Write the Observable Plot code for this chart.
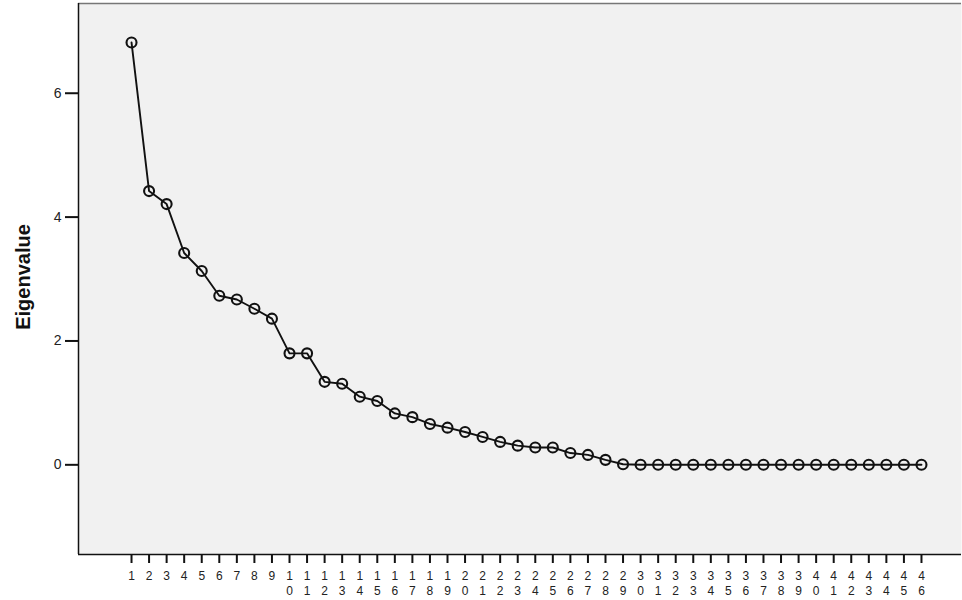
<!DOCTYPE html>
<html>
<head>
<meta charset="utf-8">
<script src="https://cdn.jsdelivr.net/npm/d3@7"></script>
<script src="https://cdn.jsdelivr.net/npm/@observablehq/plot@0.6"></script>
<style>
  html, body { margin: 0; padding: 0; background: #ffffff; }
  #chart svg { display: block; }
</style>
</head>
<body>
<div id="chart"></div>
<script>
// Component numbers 1..46
const components = [1,2,3,4,5,6,7,8,9,10,11,12,13,14,15,16,17,18,19,20,21,22,23,24,25,26,27,28,29,30,31,32,33,34,35,36,37,38,39,40,41,42,43,44,45,46];
// Eigenvalues
const eigenvalues = [6.82,4.42,4.21,3.42,3.13,2.73,2.67,2.52,2.36,1.80,1.80,1.34,1.31,1.10,1.03,0.83,0.77,0.66,0.60,0.53,0.45,0.37,0.31,0.28,0.28,0.19,0.16,0.08,0.01,0,0,0,0,0,0,0,0,0,0,0,0,0,0,0,0,0];
const yTicks = [0, 2, 4, 6];
const yLabel = "Eigenvalue";

const data = components.map((c, i) => ({component: c, eigenvalue: eigenvalues[i]}));

const font = "'Liberation Sans', Arial, sans-serif";
const xDomain = [-2.02, 48.28];
const yDomain = [-1.448, 7.449];

const chart = Plot.plot({
  width: 962,
  height: 600,
  marginLeft: 78,
  marginRight: 1,
  marginTop: 3,
  marginBottom: 46,
  style: {fontFamily: font, background: "#ffffff", color: "#222"},
  x: {type: "linear", domain: xDomain, axis: null},
  y: {domain: yDomain, axis: null},
  marks: [
    Plot.frame({fill: "#f1f1f1", stroke: null}),
    // frame lines
    Plot.ruleY([yDomain[1]], {stroke: "#777", strokeWidth: 1.5}),
    Plot.ruleY([yDomain[0]], {stroke: "#111", strokeWidth: 1.5}),
    Plot.ruleX([xDomain[0]], {stroke: "#111", strokeWidth: 1.5}),
    Plot.axisY({
      ticks: yTicks,
      tickSize: 13,
      stroke: "#111",
      strokeWidth: 2,
      label: null,
      tickFormat: () => ""
    }),
    Plot.axisX({
      ticks: components,
      tickSize: 9,
      stroke: "#111",
      strokeWidth: 2,
      label: null,
      tickFormat: () => ""
    }),
    // y tick labels
    Plot.text(yTicks, {
      x: () => xDomain[0],
      y: d => d,
      dx: -17,
      text: d => String(d),
      textAnchor: "end",
      fontSize: 14,
      fill: "#222"
    }),
    // x tick labels (digits stacked)
    Plot.text(components, {
      x: d => d,
      y: () => yDomain[0],
      dy: 15,
      lineAnchor: "top",
      lineHeight: 1.25,
      text: d => String(d).split("").join("\n"),
      fontSize: 12,
      fill: "#222"
    }),
    Plot.text([yLabel], {
      frameAnchor: "left",
      dx: -55,
      dy: -2,
      rotate: -90,
      text: d => d,
      fontSize: 20,
      fontWeight: "bold",
      fill: "#111",
      textAnchor: "middle"
    }),
    Plot.line(data, {x: "component", y: "eigenvalue", stroke: "#111", strokeWidth: 1.9}),
    Plot.dot(data, {x: "component", y: "eigenvalue", r: 5, stroke: "#111", strokeWidth: 2.1, fill: "none"})
  ]
});

document.getElementById("chart").appendChild(chart);
</script>
</body>
</html>
